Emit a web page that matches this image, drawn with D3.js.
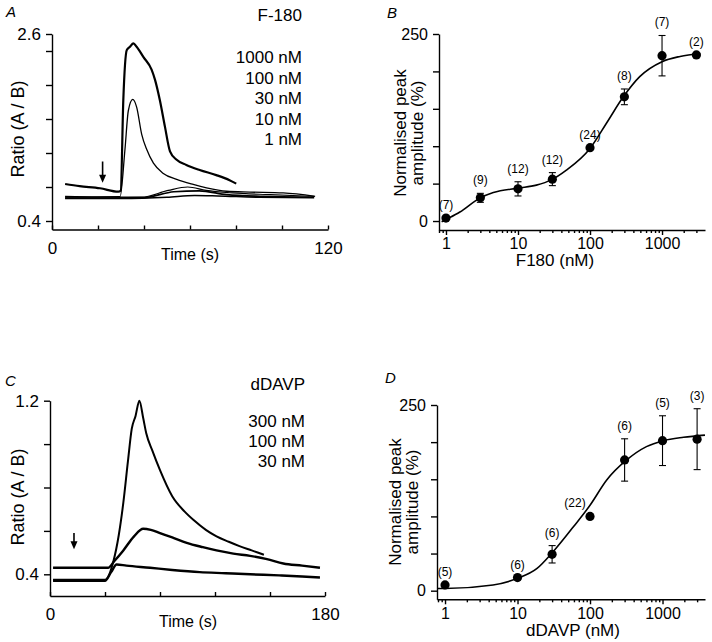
<!DOCTYPE html>
<html>
<head>
<meta charset="utf-8">
<script src="https://cdn.jsdelivr.net/npm/d3@7"></script>
<style>
body { margin: 0; background: #fff; }
svg text { font-family: "Liberation Sans", Arial, Helvetica, sans-serif; fill: #000; }
</style>
</head>
<body>
<svg width="712" height="642"></svg>
<script>
// ---- panel A : F-180 traces, [time (s), ratio]
var f180Doses = ["1000 nM", "100 nM", "30 nM", "10 nM", "1 nM"];
var traceA1000 = [[5.7,0.835],[12,0.81],[20.9,0.785],[28.8,0.745],[29.9,0.76],[31,1.82],[32.5,2.41],[33.9,2.45],[35.4,2.49],[36.8,2.45],[39.7,2.33],[43.3,2.18],[44.8,2.06],[46.9,1.82],[49.1,1.51],[51.3,1.22],[54.2,1.12],[58.4,1.06],[64.2,1.0],[71.4,0.94],[77.2,0.88],[80.1,0.84]];
var traceA100 = [[5.7,0.69],[20,0.685],[29.6,0.686],[31.7,1.235],[33.2,1.70],[35.1,1.83],[36.8,1.74],[39,1.42],[41.2,1.24],[44.1,1.08],[48.4,0.96],[54.2,0.89],[61.4,0.83],[67.2,0.79],[75.9,0.75],[86,0.74],[100.5,0.73],[114.4,0.69]];
var traceA30 = [[5.7,0.68],[25,0.68],[39,0.68],[50.5,0.76],[59,0.80],[67,0.76],[78.5,0.73],[95,0.71],[114,0.69]];
var traceA10 = [[5.7,0.67],[25,0.67],[40,0.675],[53,0.745],[64,0.755],[76,0.71],[92,0.69],[112,0.68]];
var traceA1 = [[5.7,0.665],[30,0.665],[50,0.68],[62,0.70],[72,0.695],[90,0.68],[114,0.675]];
var arrowA = [22, 1.1, 0.85];   // time, top ratio, tip ratio

// ---- panel B : F180 concentration-response
var f180Conc = [1, 3, 10, 30, 100, 300, 1000, 3000];
var f180Mean = [4, 31, 43, 56, 98, 166, 221, 222];
var f180Err  = [0, 6, 9.5, 8.7, 0, 10.5, 27, 0];
var f180N    = [7, 9, 12, 12, 24, 8, 7, 2];
var f180FitConc = [0.87, 1, 1.56, 2.87, 4.54, 10, 18, 29, 47, 100, 170, 290, 490, 1000, 1780, 3400];
var f180FitVal  = [-1, 2, 12, 30, 38, 44, 48, 55, 68, 97, 131, 166, 193, 213, 220, 224];

// ---- panel C : dDAVP traces
var ddavpDoses = ["300 nM", "100 nM", "30 nM"];
var traceC300 = [[2,0.375],[20,0.375],[36,0.375],[41.5,0.46],[45,0.58],[48,0.73],[51,0.92],[53.5,1.07],[56,1.13],[58.5,1.2],[61,1.12],[63,1.05],[67,0.97],[72,0.88],[80,0.76],[88,0.69],[94,0.65],[102,0.605],[109,0.575],[117,0.55],[124,0.53],[132,0.51],[140,0.49]];
var traceC100 = [[2,0.43],[20,0.43],[38,0.43],[42,0.46],[48,0.51],[55,0.575],[61,0.61],[66,0.605],[72,0.59],[80,0.57],[89.5,0.545],[100,0.525],[109,0.51],[120,0.495],[131,0.485],[142,0.47],[152.7,0.45],[165,0.44],[176.7,0.43]];
var traceC30 = [[2,0.37],[20,0.37],[36,0.37],[40,0.41],[43.6,0.445],[50,0.44],[65.5,0.43],[80,0.42],[98,0.41],[115,0.405],[131,0.40],[150,0.395],[165,0.39],[176.7,0.385]];
var arrowC = [15.7, 0.59, 0.515];

// ---- panel D : dDAVP concentration-response
var ddavpConc = [1, 10, 30, 100, 300, 1000, 3000];
var ddavpMean = [7.7, 17.7, 49, 100, 176, 202, 204];
var ddavpErr  = [0, 0, 11.7, 0, 28.5, 33.5, 41];
var ddavpN    = [5, 6, 6, 22, 6, 5, 3];
var ddavpFitConc = [0.775, 1, 4.6, 10, 18.6, 31, 59, 100, 170, 320, 600, 1030, 1950, 3850];
var ddavpFitVal  = [3, 3, 7.7, 16.6, 30, 52.5, 86, 115, 149, 176, 194, 202, 206.5, 209.5];

var svg = d3.select("svg");

function zip(a, b) { return a.map(function(d, i) { return [d, b[i]]; }); }

function letter(txt, x, y) {
    svg.append("text").attr("x", x).attr("y", y)
        .style("font-size", "15px").style("font-style", "italic").text(txt);
}

function yLabel(lines, x, y, size) {
    lines.forEach(function(l, i) {
        svg.append("text")
            .attr("transform", "translate(" + (x + i * 17) + "," + y + ") rotate(-90)")
            .attr("text-anchor", "middle")
            .style("font-size", size + "px")
            .text(l);
    });
}

function arrow(x, y, a) {
    var xp = x(a[0]), y0 = y(a[1]), y1 = y(a[2]);
    svg.append("line").attr("x1", xp).attr("x2", xp).attr("y1", y0).attr("y2", y1 - 6)
        .attr("stroke", "#000").attr("stroke-width", 1.6);
    svg.append("path")
        .attr("d", "M" + (xp - 3.5) + "," + (y1 - 8) + "L" + (xp + 3.5) + "," + (y1 - 8) + "L" + xp + "," + y1 + "Z")
        .attr("fill", "#000");
}

function tracePanel(o) {
    var g = svg.append("g");
    var yAx = g.append("g").attr("transform", "translate(" + o.x.range()[0] + ",0)")
        .call(d3.axisLeft(o.y).tickValues(o.yTicks).tickSize(6).tickPadding(5).tickSizeOuter(0)
            .tickFormat(function(d) { return o.yLabels.indexOf(d) >= 0 ? d3.format(".1f")(d) : ""; }));
    var xAx = g.append("g").attr("transform", "translate(0," + o.y.range()[0] + ")")
        .call(d3.axisBottom(o.x).tickValues(o.xTicks).tickSize(-4).tickPadding(12).tickSizeOuter(0)
            .tickFormat(function(d) { return o.xLabels.indexOf(d) >= 0 ? d : ""; }));
    [yAx, xAx].forEach(function(a) {
        a.selectAll("path,line").attr("stroke", "#000").attr("stroke-width", 1.4);
        a.selectAll("text").style("font-size", "17px").style("font-family", null);
    });

    var line = d3.line().x(function(d) { return o.x(d[0]); }).y(function(d) { return o.y(d[1]); })
        .curve(d3.curveMonotoneX);
    o.traces.forEach(function(t, i) {
        g.append("path").attr("d", line(t)).attr("fill", "none")
            .attr("stroke", "#000").attr("stroke-width", o.widths[i])
            .attr("stroke-linejoin", "round");
    });
    arrow(o.x, o.y, o.arrow);

    svg.append("text").attr("x", o.legendX).attr("y", o.titleY).attr("text-anchor", "end")
        .style("font-size", "17px").text(o.title);
    o.doses.forEach(function(d, i) {
        svg.append("text").attr("x", o.legendX).attr("y", o.legendY + i * o.legendStep)
            .attr("text-anchor", "end").style("font-size", "17px").text(d);
    });
    svg.append("text").attr("x", o.xLabelX).attr("y", o.xLabelY).attr("text-anchor", "middle")
        .style("font-size", "16px").text("Time (s)");
}

function dosePanel(o) {
    var g = svg.append("g");
    var x0 = o.x.range()[0], yb = o.y.range()[0];
    var majors = [1, 10, 100, 1000];
    var minors = o.x.ticks().filter(function(d) { return majors.indexOf(d) < 0; });

    var yAx = g.append("g").attr("transform", "translate(" + x0 + ",0)")
        .call(d3.axisLeft(o.y).tickValues([0, 50, 100, 150, 200, 250]).tickSize(6).tickPadding(5).tickSizeOuter(0)
            .tickFormat(function(d) { return d === 0 || d === 250 ? d : ""; }));
    var xMin = g.append("g").attr("transform", "translate(0," + yb + ")")
        .call(d3.axisBottom(o.x).tickValues(minors).tickSize(3).tickSizeOuter(0).tickFormat(""));
    var xMaj = g.append("g").attr("transform", "translate(0," + yb + ")")
        .call(d3.axisBottom(o.x).tickValues(majors).tickSize(5).tickPadding(3).tickSizeOuter(0)
            .tickFormat(d3.format("d")));
    xMaj.select(".domain").remove();
    [yAx, xMin, xMaj].forEach(function(a) {
        a.selectAll("path,line").attr("stroke", "#000").attr("stroke-width", 1.4);
        a.selectAll("text").style("font-size", "16px").style("font-family", null);
    });

    var line = d3.line().x(function(d) { return o.x(d[0]); }).y(function(d) { return o.y(d[1]); })
        .curve(d3.curveMonotoneX);
    g.append("path").attr("d", line(zip(o.fitConc, o.fitVal)))
        .attr("fill", "none").attr("stroke", "#000").attr("stroke-width", 1.6);

    var pts = o.conc.map(function(c, i) { return { c: c, m: o.mean[i], e: o.err[i], n: o.n[i] }; });
    var bars = g.selectAll(".err").data(pts.filter(function(d) { return d.e > 0; })).enter()
        .append("g").attr("class", "err").attr("stroke", "#000").attr("stroke-width", 1.1);
    bars.append("line")
        .attr("x1", function(d) { return o.x(d.c); }).attr("x2", function(d) { return o.x(d.c); })
        .attr("y1", function(d) { return o.y(d.m - d.e); }).attr("y2", function(d) { return o.y(d.m + d.e); });
    [-1, 1].forEach(function(s) {
        bars.append("line")
            .attr("x1", function(d) { return o.x(d.c) - 3.5; }).attr("x2", function(d) { return o.x(d.c) + 3.5; })
            .attr("y1", function(d) { return o.y(d.m + s * d.e); }).attr("y2", function(d) { return o.y(d.m + s * d.e); });
    });
    g.selectAll(".pt").data(pts).enter().append("circle")
        .attr("cx", function(d) { return o.x(d.c); }).attr("cy", function(d) { return o.y(d.m); })
        .attr("r", 4.6).attr("fill", "#000");
    g.selectAll(".n").data(pts).enter().append("text")
        .attr("x", function(d) { return o.x(d.c) + (d.n === 22 ? -15 : 0); })
        .attr("y", function(d) { return o.y(d.m + d.e) - 9; })
        .attr("text-anchor", "middle").style("font-size", "12px")
        .text(function(d) { return "(" + d.n + ")"; });

    yLabel(["Normalised peak", "amplitude (%)"], o.yLabelX, o.yLabelY, 17);
    svg.append("text").attr("x", o.xLabelX).attr("y", o.xLabelY).attr("text-anchor", "middle")
        .style("font-size", "17px").text(o.xTitle);
}

// A
tracePanel({
    x: d3.scaleLinear().domain([0, 120]).range([52, 328]),
    y: d3.scaleLinear().domain([0.3, 2.6]).range([229.5, 34]),
    yTicks: [0.4, 0.8, 1.2, 1.6, 2.0, 2.4, 2.6], yLabels: [0.4, 2.6],
    xTicks: [0, 20, 40, 60, 80, 100, 120], xLabels: [0, 120],
    traces: [traceA1, traceA10, traceA30, traceA100, traceA1000],
    widths: [1.6, 1.6, 1.2, 1.3, 2.2],
    arrow: arrowA,
    title: "F-180", titleY: 21, doses: f180Doses, legendX: 302, legendY: 63, legendStep: 20.5,
    xLabelX: 190, xLabelY: 260
});
letter("A", 6, 17);
yLabel(["Ratio (A / B)"], 24, 129, 18);

// B
dosePanel({
    x: d3.scaleLog().domain([0.8, 3950]).range([439, 705]),
    y: d3.scaleLinear().domain([-12, 250]).range([230, 34]),
    conc: f180Conc, mean: f180Mean, err: f180Err, n: f180N,
    fitConc: f180FitConc, fitVal: f180FitVal,
    yLabelX: 406, yLabelY: 133, xLabelX: 555, xLabelY: 266, xTitle: "F180 (nM)"
});
letter("B", 387, 18);

// C
tracePanel({
    x: d3.scaleLinear().domain([0, 180]).range([50, 325]),
    y: d3.scaleLinear().domain([0.3, 1.2]).range([596, 400.7]),
    yTicks: [0.4, 0.6, 0.8, 1.0, 1.2], yLabels: [0.4, 1.2],
    xTicks: [0, 36, 72, 108, 144, 180], xLabels: [0, 180],
    traces: [traceC30, traceC100, traceC300],
    widths: [2.4, 2.4, 2.0],
    arrow: arrowC,
    title: "dDAVP", titleY: 390, doses: ddavpDoses, legendX: 305, legendY: 427, legendStep: 20,
    xLabelX: 188, xLabelY: 627
});
letter("C", 5, 386);
yLabel(["Ratio (A / B)"], 24, 497, 18);

// D
dosePanel({
    x: d3.scaleLog().domain([0.775, 3855]).range([437, 705]),
    y: d3.scaleLinear().domain([-11.6, 250]).range([599.3, 405]),
    conc: ddavpConc, mean: ddavpMean, err: ddavpErr, n: ddavpN,
    fitConc: ddavpFitConc, fitVal: ddavpFitVal,
    yLabelX: 401, yLabelY: 502, xLabelX: 573, xLabelY: 636, xTitle: "dDAVP (nM)"
});
letter("D", 385, 383);
</script>
</body>
</html>
